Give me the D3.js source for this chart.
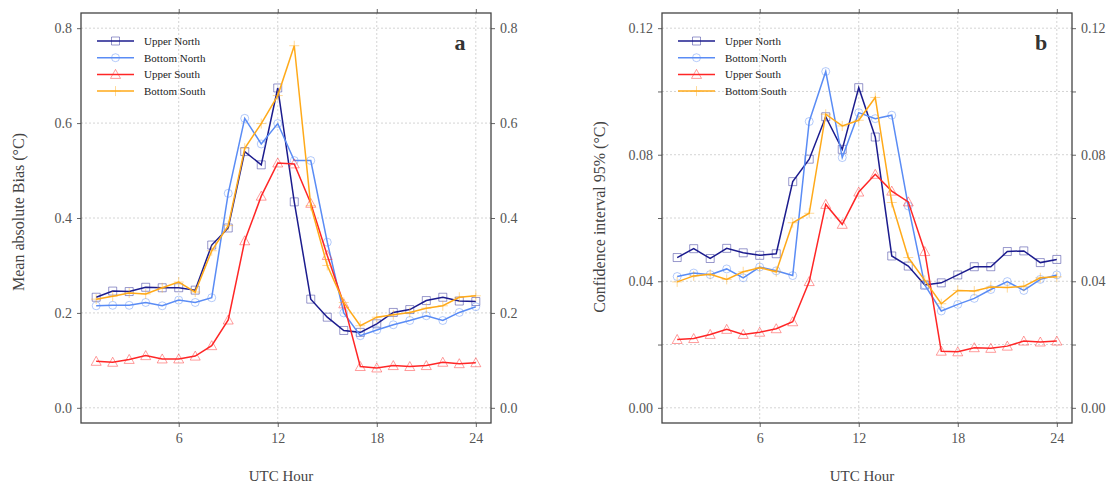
<!DOCTYPE html>
<html>
<head>
<meta charset="utf-8">
<script src="https://cdn.jsdelivr.net/npm/d3@7"></script>
<style>
body { margin: 0; background: #fff; }
svg { font-family: "Liberation Serif", "Times New Roman", serif; }
</style>
</head>
<body>
<svg width="1114" height="484"></svg>
<script>
const hours = d3.range(1, 25);
const seriesNames = ["Upper North", "Bottom North", "Upper South", "Bottom South"];
const seriesColors = ["#1c1c8e", "#5a8cf5", "#ff2626", "#ffaa1a"];
const seriesMarkers = ["square", "circle", "triangle", "plus"];

// panel a: mean absolute bias
const maeUpperNorth = [0.233, 0.246, 0.245, 0.254, 0.253, 0.253, 0.248, 0.343, 0.379, 0.540, 0.512, 0.674,
    0.434, 0.229, 0.191, 0.163, 0.159, 0.177, 0.201, 0.207, 0.226, 0.233, 0.225, 0.224];
const maeBottomNorth = [0.215, 0.216, 0.216, 0.222, 0.215, 0.227, 0.222, 0.232, 0.452, 0.610, 0.556, 0.599,
    0.521, 0.521, 0.349, 0.200, 0.152, 0.164, 0.175, 0.184, 0.194, 0.184, 0.201, 0.213];
const maeUpperSouth = [0.098, 0.096, 0.102, 0.110, 0.103, 0.103, 0.109, 0.131, 0.185, 0.352, 0.446, 0.516,
    0.514, 0.431, 0.321, 0.219, 0.087, 0.084, 0.089, 0.087, 0.089, 0.096, 0.093, 0.095];
const maeBottomSouth = [0.229, 0.235, 0.242, 0.240, 0.253, 0.265, 0.244, 0.331, 0.384, 0.547, 0.599, 0.658,
    0.763, 0.426, 0.300, 0.222, 0.173, 0.191, 0.196, 0.201, 0.210, 0.215, 0.233, 0.236];

// panel b: 95% confidence interval
const ciUpperNorth = [0.0475, 0.0503, 0.0472, 0.0504, 0.0490, 0.0482, 0.0487, 0.0715, 0.0786, 0.0920, 0.0817, 0.1012,
    0.0856, 0.0480, 0.0448, 0.0388, 0.0395, 0.0420, 0.0446, 0.0446, 0.0494, 0.0496, 0.0459, 0.0469];
const ciBottomNorth = [0.0415, 0.0426, 0.0421, 0.0439, 0.0411, 0.0445, 0.0433, 0.0418, 0.0905, 0.1063, 0.0791, 0.0933,
    0.0914, 0.0925, 0.0638, 0.0388, 0.0306, 0.0327, 0.0346, 0.0374, 0.0399, 0.0371, 0.0406, 0.0420];
const ciUpperSouth = [0.0216, 0.0219, 0.0232, 0.0248, 0.0232, 0.0239, 0.0250, 0.0272, 0.0399, 0.0643, 0.0580, 0.0682,
    0.0738, 0.0685, 0.0651, 0.0494, 0.0179, 0.0177, 0.0190, 0.0188, 0.0195, 0.0211, 0.0208, 0.0211];
const ciBottomSouth = [0.0398, 0.0417, 0.0422, 0.0406, 0.0430, 0.0443, 0.0430, 0.0585, 0.0615, 0.0928, 0.0891, 0.0909,
    0.0981, 0.0649, 0.0475, 0.0403, 0.0329, 0.0371, 0.0369, 0.0382, 0.0380, 0.0384, 0.0411, 0.0414];

const xTicks = [6, 12, 18, 24];
const maeTicks = [0, 0.2, 0.4, 0.6, 0.8];
const ciTicks = [0, 0.02, 0.04, 0.06, 0.08, 0.10, 0.12];
const ciLabelTicks = [0, 0.04, 0.08, 0.12];

const svg = d3.select("svg");

function markerPath(type) {
    if (type === "square") return "M-4,-4H4V4H-4Z";
    if (type === "circle") return d3.symbol(d3.symbolCircle, 50)();
    if (type === "triangle") return "M0,-5L5,4H-5Z";
    return "M-5,0H5M0,-5V5";
}

function drawPanel(opts) {
    const g = svg.append("g");
    const x = d3.scaleLinear().domain([0.08, 24.92]).range([opts.left, opts.right]);
    const y = d3.scaleLinear().domain(opts.yDomain).range([opts.bottom, opts.top]);

    // grid
    g.selectAll(".gx").data(xTicks).enter().append("line")
        .attr("x1", d => x(d)).attr("x2", d => x(d))
        .attr("y1", opts.top).attr("y2", opts.bottom)
        .attr("stroke", "#d4d4d4").attr("stroke-dasharray", "2,2");
    g.selectAll(".gy").data(opts.grid).enter().append("line")
        .attr("x1", opts.left).attr("x2", opts.right)
        .attr("y1", d => y(d)).attr("y2", d => y(d))
        .attr("stroke", "#d4d4d4").attr("stroke-dasharray", "2,2");

    // axes on all four sides
    const fmt = opts.fmt;
    const labelSet = new Set(opts.labels.map(v => v.toFixed(3)));
    const yFmt = d => labelSet.has(d.toFixed(3)) ? fmt(d) : "";

    const axB = g.append("g").attr("transform", `translate(0,${opts.bottom})`)
        .call(d3.axisBottom(x).tickValues(xTicks).tickSize(4).tickSizeOuter(0).tickPadding(6));
    const axT = g.append("g").attr("transform", `translate(0,${opts.top})`)
        .call(d3.axisTop(x).tickValues(xTicks).tickSize(4).tickSizeOuter(0).tickFormat(""));
    const axL = g.append("g").attr("transform", `translate(${opts.left},0)`)
        .call(d3.axisLeft(y).tickValues(opts.grid).tickSize(4).tickSizeOuter(0).tickFormat(yFmt).tickPadding(5));
    const axR = g.append("g").attr("transform", `translate(${opts.right},0)`)
        .call(d3.axisRight(y).tickValues(opts.grid).tickSize(4).tickSizeOuter(0).tickFormat(yFmt).tickPadding(5));
    [axB, axT, axL, axR].forEach(a => {
        a.attr("font-family", "'Liberation Serif', 'Times New Roman', serif").attr("font-size", 14);
        a.select(".domain").remove();
        a.selectAll("line").attr("stroke", "#666");
        a.selectAll("text").attr("fill", "#555");
    });

    // lines and markers
    const line = d3.line().x((d, i) => x(hours[i])).y(d => y(d));
    opts.series.forEach((vals, k) => {
        g.append("path").datum(vals)
            .attr("fill", "none").attr("stroke", seriesColors[k]).attr("stroke-width", 1.5)
            .attr("d", line);
        g.selectAll(".m" + k).data(vals).enter().append("path")
            .attr("transform", (d, i) => `translate(${x(hours[i])},${y(d)})`)
            .attr("d", markerPath(seriesMarkers[k]))
            .attr("fill", "none").attr("stroke", seriesColors[k])
            .attr("stroke-opacity", 0.45).attr("stroke-width", 1);
    });

    // frame
    g.append("rect")
        .attr("x", opts.left).attr("y", opts.top)
        .attr("width", opts.right - opts.left).attr("height", opts.bottom - opts.top)
        .attr("fill", "none").attr("stroke", "#444").attr("stroke-width", 1.3);

    // legend
    seriesNames.forEach((name, k) => {
        const ly = 41 + k * 16.7;
        const lx = opts.left + 16;
        g.append("line").attr("x1", lx).attr("x2", lx + 37).attr("y1", ly).attr("y2", ly)
            .attr("stroke", seriesColors[k]).attr("stroke-width", 1.5);
        g.append("path").attr("transform", `translate(${lx + 18.5},${ly})`)
            .attr("d", markerPath(seriesMarkers[k]))
            .attr("fill", "none").attr("stroke", seriesColors[k])
            .attr("stroke-opacity", 0.45);
        g.append("text").attr("x", lx + 47).attr("y", ly + 4)
            .attr("fill", "#222").style("font-size", "11px").text(name);
    });

    // panel letter
    g.append("text").attr("x", opts.right - 31).attr("y", 50)
        .attr("text-anchor", "middle").attr("font-weight", "bold")
        .style("font-size", "22px").attr("fill", "#333").text(opts.letter);

    // titles
    g.append("text").attr("x", (opts.left + opts.right) / 2 - 5).attr("y", 481)
        .attr("text-anchor", "middle").attr("fill", "#444").style("font-size", "15px").text("UTC Hour");
    g.append("text")
        .attr("transform", `translate(${opts.left - opts.titleOff},${opts.titleY}) rotate(-90)`)
        .attr("text-anchor", "middle").attr("fill", "#444").style("font-size", "16px").text(opts.yTitle);
}

drawPanel({
    left: 81, right: 491, top: 13, bottom: 423,
    yDomain: [-0.032, 0.832], grid: maeTicks, labels: maeTicks, fmt: d3.format(".1f"),
    series: [maeUpperNorth, maeBottomNorth, maeUpperSouth, maeBottomSouth],
    letter: "a", yTitle: "Mean absolute Bias (°C)", titleOff: 57, titleY: 212
});

drawPanel({
    left: 662, right: 1072, top: 13, bottom: 423,
    yDomain: [-0.0048, 0.1248], grid: ciTicks, labels: ciLabelTicks, fmt: d3.format(".2f"),
    series: [ciUpperNorth, ciBottomNorth, ciUpperSouth, ciBottomSouth],
    letter: "b", yTitle: "Confidence interval 95% (°C)", titleOff: 57, titleY: 217
});
</script>
</body>
</html>
